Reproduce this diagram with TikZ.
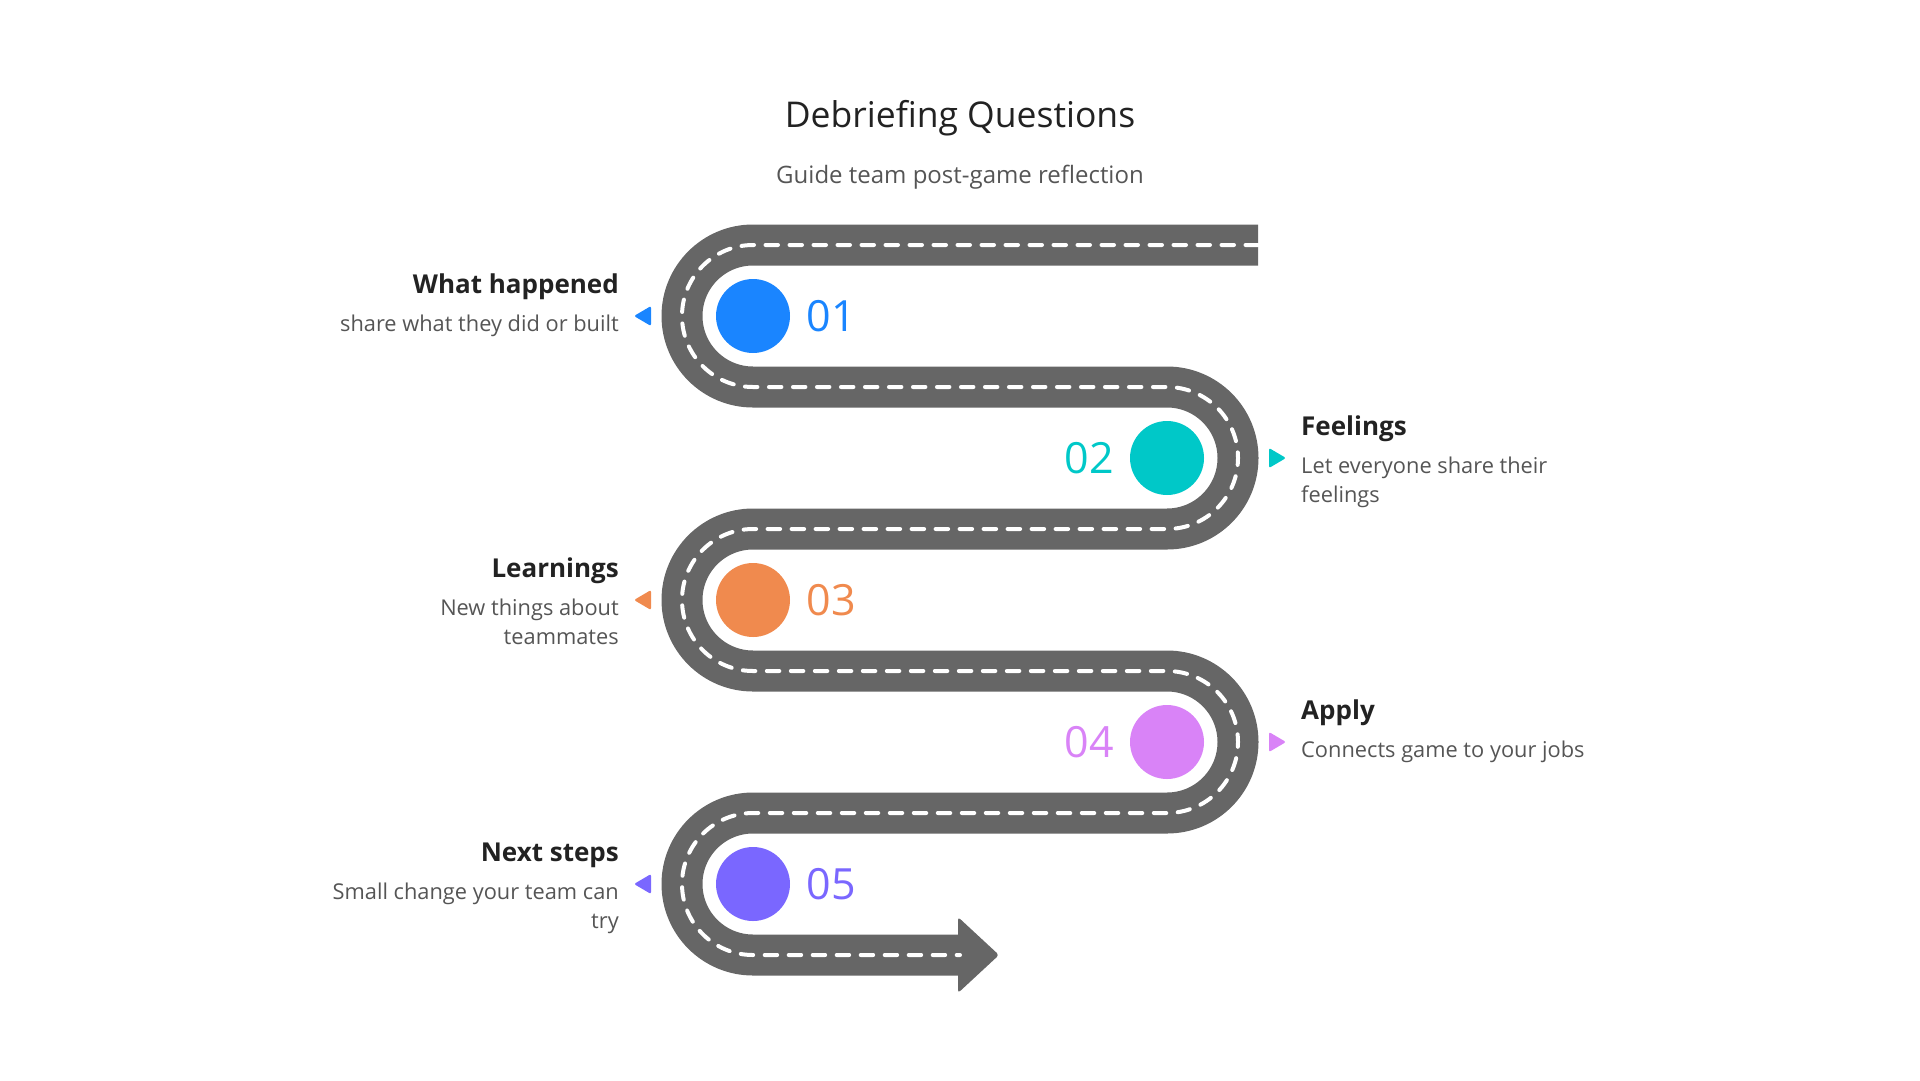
\documentclass[tikz,border=0pt]{standalone}
\usepackage{fontspec}
\setmainfont{Open Sans}
\usetikzlibrary{positioning}

\definecolor{roadgray}{HTML}{666666}
\definecolor{stepblue}{HTML}{1A85FF}
\definecolor{stepteal}{HTML}{00C8C8}
\definecolor{steporange}{HTML}{F08A4E}
\definecolor{steppink}{HTML}{D983F7}
\definecolor{steppurple}{HTML}{7A67FF}
\definecolor{headgray}{HTML}{222222}
\definecolor{bodygray}{HTML}{555555}

\begin{document}
\begin{tikzpicture}[
	%	style def
    x=1pt, y=-1pt,
    road/.style={line width=41pt, color=roadgray},
    lane line/.style={line width=4pt, white, line cap=round, dash pattern=on 12.5pt off 11.5pt},
    step dot/.style={circle, fill=#1, minimum size=74pt, inner sep=0pt},
    step num/.style={text=#1, inner sep=0pt, font=\fontsize{43}{43}\selectfont},
    head text/.style={inner sep=0pt, text=headgray, font=\fontsize{26}{30}\selectfont\bfseries},
    body text/.style={inner sep=0pt, text=bodygray, font=\fontsize{21.8}{29}\selectfont}
    ]
    \useasboundingbox (0,0) rectangle (1920,1080);

    % title
    \node[anchor=base, inner sep=0pt, text=headgray, font=\fontsize{35.5}{40}\selectfont] (title) at (960,127) {Debriefing Questions};
    \node[anchor=base, inner sep=0pt, text=bodygray, font=\fontsize{24}{28}\selectfont] (subtitle) at (960,183) {Guide team post-game reflection};

    % turning points of the road
    \path (1258,245) coordinate (r0)
          (753,245) coordinate (a1)
          (1167,387) coordinate (a2)
          (753,529) coordinate (a3)
          (1167,671) coordinate (a4)
          (753,813) coordinate (a5)
          (960,955) coordinate (r1);

    % arrow head at the end of the road
    \fill[roadgray, rounded corners=3pt] (958,917) -- (999,955) -- (958,993) -- cycle;

    % road and its dashed middle line
    \draw[road] (r0) -- (a1) arc[start angle=270, end angle=90, radius=71]
        -- (a2) arc[start angle=270, end angle=450, radius=71]
        -- (a3) arc[start angle=270, end angle=90, radius=71]
        -- (a4) arc[start angle=270, end angle=450, radius=71]
        -- (a5) arc[start angle=270, end angle=90, radius=71] -- (r1);
    \draw[lane line] (r0) -- (a1) arc[start angle=270, end angle=90, radius=71]
        -- (a2) arc[start angle=270, end angle=450, radius=71]
        -- (a3) arc[start angle=270, end angle=90, radius=71]
        -- (a4) arc[start angle=270, end angle=450, radius=71]
        -- (a5) arc[start angle=270, end angle=90, radius=71] -- (r1);

    % step dots and numbers
    \node[step dot=stepblue] (c1) at (753,316) {};
    \node[step dot=stepteal] (c2) at (1167,458) {};
    \node[step dot=steporange] (c3) at (753,600) {};
    \node[step dot=steppink] (c4) at (1167,742) {};
    \node[step dot=steppurple] (c5) at (753,884) {};

    \node[step num=stepblue, right=16pt of c1] (n1) {01};
    \node[step num=stepteal, left=16pt of c2] (n2) {02};
    \node[step num=steporange, right=16pt of c3] (n3) {03};
    \node[step num=steppink, left=16pt of c4] (n4) {04};
    \node[step num=steppurple, right=16pt of c5] (n5) {05};

    % small pointers beside the road
    \fill[stepblue, rounded corners=2pt] (651,306) -- (634,316) -- (651,326) -- cycle;
    \fill[stepteal, rounded corners=2pt] (1269,448) -- (1286,458) -- (1269,468) -- cycle;
    \fill[steporange, rounded corners=2pt] (651,590) -- (634,600) -- (651,610) -- cycle;
    \fill[steppink, rounded corners=2pt] (1269,732) -- (1286,742) -- (1269,752) -- cycle;
    \fill[steppurple, rounded corners=2pt] (651,874) -- (634,884) -- (651,894) -- cycle;

    % labels (two-line texts sit on the baseline of their last line)
    \node[head text, anchor=base east] (h1) at (619,293) {What happened};
    \node[body text, anchor=base east, align=right] (d1) at (619,331) {share what they did or built};
    \node[head text, anchor=base west] (h2) at (1301,435) {Feelings};
    \node[body text, anchor=base west, align=left] (d2) at (1301,502) {Let everyone share their\\feelings};
    \node[head text, anchor=base east] (h3) at (619,577) {Learnings};
    \node[body text, anchor=base east, align=right] (d3) at (619,644) {New things about\\teammates};
    \node[head text, anchor=base west] (h4) at (1301,719) {Apply};
    \node[body text, anchor=base west, align=left] (d4) at (1301,757) {Connects game to your jobs};
    \node[head text, anchor=base east] (h5) at (619,861) {Next steps};
    \node[body text, anchor=base east, align=right] (d5) at (619,928) {Small change your team can\\try};

\end{tikzpicture}
\end{document}
